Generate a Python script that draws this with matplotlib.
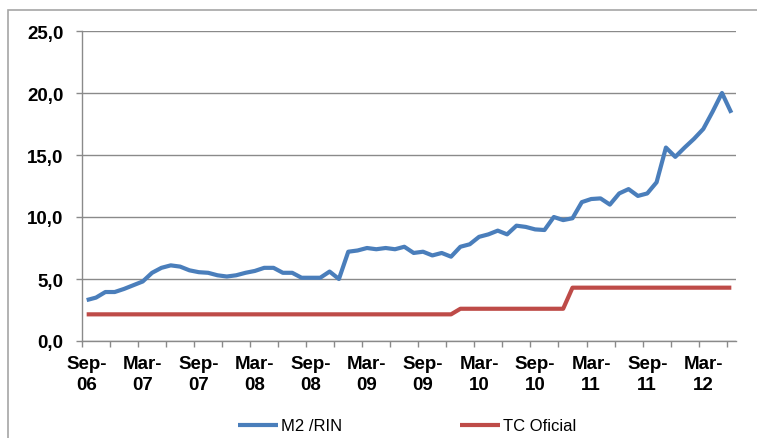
import matplotlib
matplotlib.use('Agg')
import matplotlib.pyplot as plt
from matplotlib.patches import Rectangle
from matplotlib.ticker import FixedLocator, FuncFormatter

plt.rcParams['font.family'] = ['Liberation Sans', 'DejaVu Sans']

# monthly data, Sep-06 .. Jun-12
m2_rin = [3.3, 3.5, 3.95, 3.95, 4.2, 4.5, 4.8, 5.5, 5.9, 6.1,
          6.0, 5.7, 5.55, 5.5, 5.3, 5.2, 5.3, 5.5, 5.65, 5.9,
          5.9, 5.5, 5.5, 5.1, 5.1, 5.1, 5.6, 5.0, 7.2, 7.3,
          7.5, 7.4, 7.5, 7.4, 7.6, 7.1, 7.2, 6.9, 7.1, 6.8,
          7.6, 7.8, 8.4, 8.6, 8.9, 8.6, 9.3, 9.2, 9.0, 8.95,
          10.0, 9.75, 9.9, 11.2, 11.45, 11.5, 11.0, 11.9, 12.25, 11.7,
          11.9, 12.8, 15.6, 14.85, 15.6, 16.3, 17.1, 18.5, 20.0, 18.4]
tc_oficial = [2.15] * 40 + [2.6] * 12 + [4.3] * 18

tick_labels = ['Sep-\n06', 'Mar-\n07', 'Sep-\n07', 'Mar-\n08', 'Sep-\n08', 'Mar-\n09',
               'Sep-\n09', 'Mar-\n10', 'Sep-\n10', 'Mar-\n11', 'Sep-\n11', 'Mar-\n12']

x = list(range(len(m2_rin)))

fig = plt.figure(figsize=(7.57, 4.39), dpi=100)
ax = fig.add_axes([82/757, 1 - 342/439, (736 - 82)/757, (342 - 32)/439])

grey = '#8a8a8a'
ax.plot(x, m2_rin, color='#4a7ebb', lw=3, label='M2 /RIN', solid_capstyle='butt')
ax.plot(x, tc_oficial, color='#be4b48', lw=3, label='TC Oficial', solid_capstyle='butt')

ax.set_xlim(-0.5, len(x) - 0.5)
ax.set_ylim(0, 25)
ax.set_yticks([0, 5, 10, 15, 20, 25])
ax.yaxis.set_major_formatter(FuncFormatter(lambda v, p: f'{v:.1f}'.replace('.', ',')))
ax.yaxis.grid(True, color=grey, lw=1)
ax.set_axisbelow(True)

ax.set_xticks(list(range(0, len(x), 6)))
ax.set_xticklabels(tick_labels, linespacing=1.35, fontweight='bold')
ax.xaxis.set_minor_locator(FixedLocator([i - 0.5 for i in range(0, len(x), 3)]))

for s in ['top', 'right']:
    ax.spines[s].set_visible(False)
for s in ['left', 'bottom']:
    ax.spines[s].set_color(grey)
    ax.spines[s].set_linewidth(1)

ax.tick_params(axis='x', which='major', length=0, pad=10, labelsize=13.5)
ax.tick_params(axis='x', which='minor', length=4, width=1, color=grey, direction='out')
ax.tick_params(axis='y', length=4.5, width=1, color=grey, pad=9, labelsize=13.5)
for lbl in ax.get_yticklabels():
    lbl.set_fontweight('bold')

leg = fig.legend(loc='center', bbox_to_anchor=(407/757, 1 - 427/439), ncol=2,
                 frameon=False, handlelength=2.4, handletextpad=0.15,
                 columnspacing=7.1, prop={'size': 12})

fig.add_artist(Rectangle((8/757, -0.1), 1.2, 1 - 11/439 + 0.1, transform=fig.transFigure,
                         fill=False, edgecolor='#a6a6a6', lw=1.2))

fig.savefig('out.png', dpi=100)
